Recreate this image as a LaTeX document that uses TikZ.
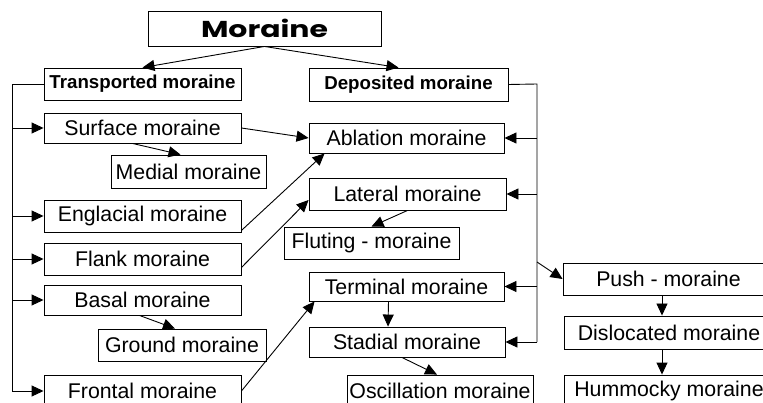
\documentclass[tikz,border=0pt]{standalone}
\usepackage{fontspec}
\setmainfont{Liberation Sans}
\newfontfamily\titlefont{Poppins}
\usepackage{graphicx}
\usetikzlibrary{arrows.meta,positioning}

\begin{document}
\begin{tikzpicture}[
    x=1pt, y=-1pt,
    box/.style={rectangle, draw, line width=0.9pt, inner sep=0pt, minimum height=32pt, font=\fontsize{21.3}{21.3}\selectfont},
    headbox/.style={box, font=\fontsize{18.7}{18.7}\selectfont\bfseries},
    arrow/.style={line width=0.9pt, -{Triangle[length=12pt, width=11pt]}},
    bus/.style={line width=0.9pt}
]
\useasboundingbox (0,0) rectangle (763,403);
\clip (0,0) rectangle (763,403);

% Top
\node[box, minimum width=233pt, minimum height=35pt] (moraine) at (264.5,28.5) {\titlefont\fontsize{23}{23}\selectfont\bfseries\scalebox{1.3}[1]{Moraine}};
\node[headbox, minimum width=197pt] (transported) at (142.5,84) {Transported moraine};
\node[headbox, minimum width=199pt, minimum height=33pt] (deposited) at (408.5,84.5) {Deposited moraine};

% Transported moraine
\node[box, minimum width=197pt, minimum height=30pt] (surface) at (142.5,128) {Surface moraine};
\node[box, minimum width=155pt, minimum height=33pt] (medial) at (188.5,171.5) {Medial moraine};
\node[box, minimum width=197pt] (englacial) at (142.5,216) {Englacial moraine};
\node[box, minimum width=197pt] (flank) at (142.5,259) {Flank moraine};
\node[box, minimum width=197pt, minimum height=30pt] (basal) at (142.5,300) {Basal moraine};
\node[box, minimum width=168pt] (ground) at (182,345) {Ground moraine};
\node[box, minimum width=197pt] (frontal) at (142.5,391) {Frontal moraine};

% Deposited moraine
\node[box, minimum width=195pt, minimum height=30pt] (ablation) at (406.5,138) {Ablation moraine};
\node[box, minimum width=197pt] (lateral) at (407.5,194) {Lateral moraine};
\node[box, minimum width=175pt] (fluting) at (371.5,243) {Fluting - moraine};
\node[box, minimum width=195pt, minimum height=29pt] (terminal) at (406.5,286.5) {Terminal moraine};
\node[box, minimum width=196pt, minimum height=30pt] (stadial) at (407,342) {Stadial moraine};
\node[box, minimum width=186pt] (oscillation) at (440,391) {Oscillation moraine};

% Push column
\node[box, minimum width=211pt] (push) at (668.5,279) {Push - moraine};
\node[box, minimum width=210pt, minimum height=33pt] (dislocated) at (669,332.5) {Dislocated moraine};
\node[box, minimum width=210pt] (hummocky) at (669,391) {Hummocky moraine};

% Main split
\draw[arrow] (moraine.south) -- (transported.north);
\draw[arrow] (moraine.south) -- ([xshift=-10pt]deposited.north);

% Left bus
\coordinate (lbus) at (12,84);
\draw[bus] (transported.west) -- (lbus) -- (lbus |- frontal.west);
\foreach \n in {surface,englacial,flank,basal,frontal}
  \draw[arrow] (lbus |- \n.west) -- (\n.west);

% Right bus
\coordinate (rbus) at (537,84);
\coordinate (pushfork) at (537,262);
\draw[bus] (deposited.east) -- (rbus) -- (rbus |- stadial.east);
\foreach \n in {ablation,lateral,terminal,stadial}
  \draw[arrow] (rbus |- \n.east) -- (\n.east);
\draw[arrow] (pushfork) -- (push.west);

% Cross links
\draw[arrow] (surface.east) -- (ablation.west);
\draw[arrow] ([xshift=-10pt]surface.south) -- ([xshift=-8pt]medial.north);
\draw[arrow] ([yshift=2pt]englacial.south east) -- ([xshift=16pt]ablation.south west);
\draw[arrow] ([yshift=8pt]flank.south east) -- ([yshift=-6pt]lateral.west);
\draw[arrow] (lateral.south) -- (fluting.north);
\draw[arrow] ([xshift=-3pt]basal.south) -- ([xshift=-7pt]ground.north);
\draw[arrow] (frontal.east) -- ([xshift=6pt]terminal.south west);
\draw[arrow] ([xshift=-18pt]terminal.south) -- ([xshift=-19pt]stadial.north);
\draw[arrow] ([xshift=-5pt]stadial.south) -- ([xshift=-3pt]oscillation.north);

% Push chain
\coordinate (rcol) at (662,0);
\draw[arrow] (push.south -| rcol) -- (dislocated.north -| rcol);
\draw[arrow] (dislocated.south -| rcol) -- (hummocky.north -| rcol);

\end{tikzpicture}
\end{document}
